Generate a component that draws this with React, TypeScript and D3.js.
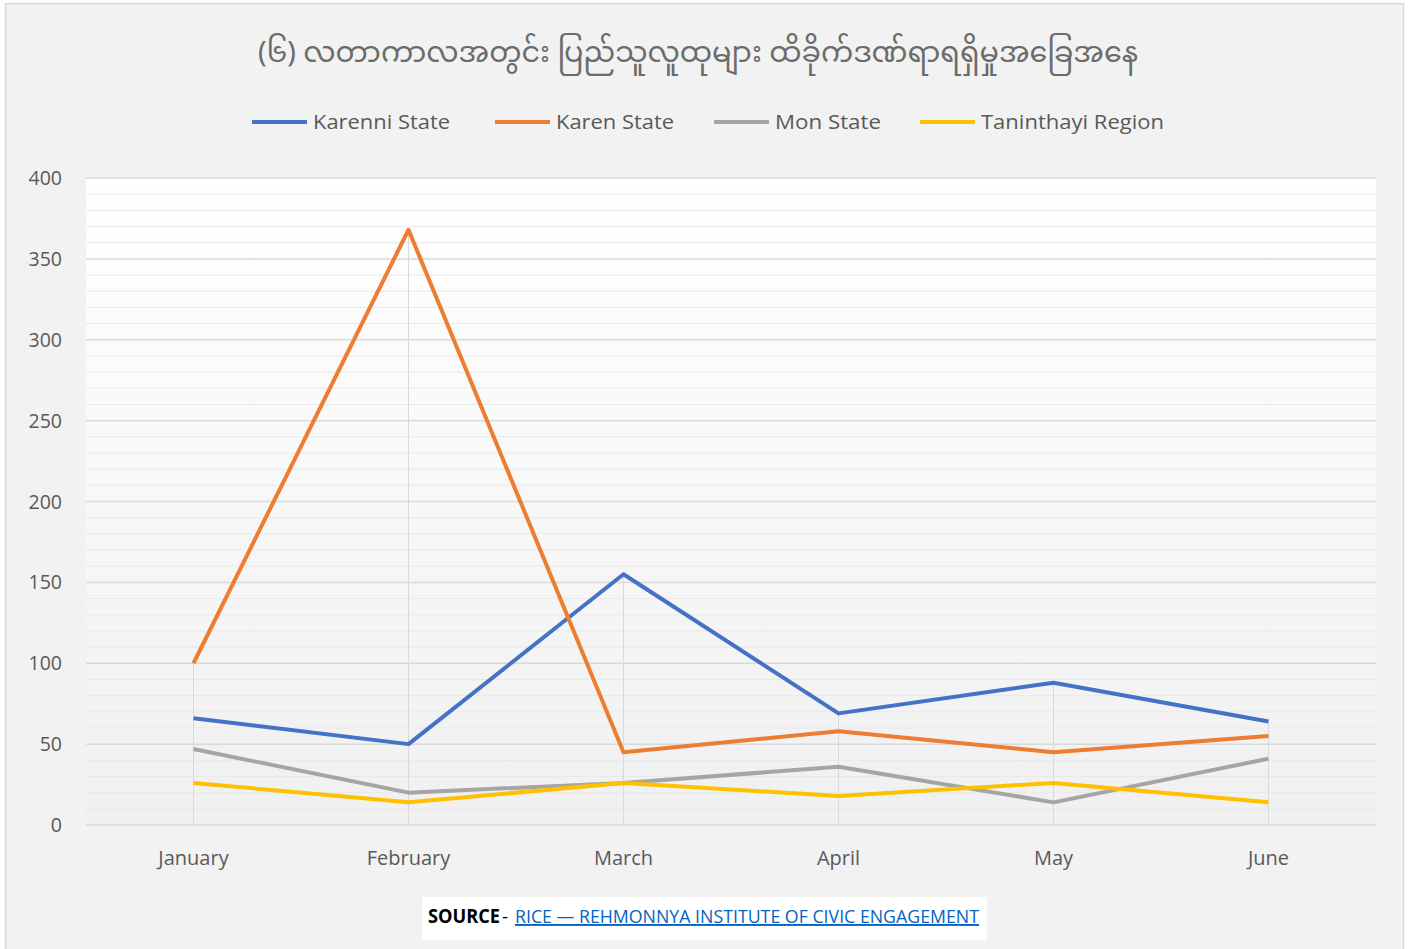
import React from "react";
import * as d3 from "d3";

const W = 1411;
const H = 949;

const titleText = "(၆) လတာကာလအတွင်း ပြည်သူလူထုများ ထိခိုက်ဒဏ်ရာရရှိမှုအခြေအနေ";
const months = ["January", "February", "March", "April", "May", "June"];
const seriesNames = ["Karenni State", "Karen State", "Mon State", "Tanintharyi Region"];
const legendLabels = ["Karenni State", "Karen State", "Mon State", "Taninthayi Region"];
const seriesColors = ["#4472c4", "#ed7d31", "#a5a5a5", "#ffc000"];
const karenni = [66, 50, 155, 69, 88, 64];
const karen = [100, 368, 45, 58, 45, 55];
const mon = [47, 20, 26, 36, 14, 41];
const tanintharyi = [26, 14, 26, 18, 26, 14];
const yTicks = [0, 50, 100, 150, 200, 250, 300, 350, 400];
const minorTicks = d3.range(0, 401, 10);

const allSeries = [karenni, karen, mon, tanintharyi];

const plot = { left: 86, right: 1376, top: 178, bottom: 825 };

export default function App() {
  const x = d3
    .scaleBand<string>()
    .domain(months)
    .range([plot.left, plot.right])
    .paddingInner(0)
    .paddingOuter(0);
  const cx = (m: string) => (x(m) as number) + x.bandwidth() / 2;
  const y = d3.scaleLinear().domain([0, 400]).range([plot.bottom, plot.top]);

  const line = d3
    .line<number>()
    .x((_, i) => cx(months[i]))
    .y((v) => y(v));

  const legendX = [252, 495, 714, 920];
  const legendTextW = [137, 118, 106, 183];
  const font = "'Open Sans', sans-serif";

  return (
    <svg
      width={W}
      height={H}
      style={{ position: "absolute", left: 0, top: 0, display: "block" }}
      fontFamily={font}
    >
      <defs>
        <linearGradient id="plotGrad" x1="0" y1="0" x2="0" y2="1">
          <stop offset="0" stopColor="#ffffff" />
          <stop offset="1" stopColor="#f0f0f0" />
        </linearGradient>
      </defs>
      <rect x={0} y={0} width={W} height={H} fill="#ffffff" />
      <rect x={5.5} y={3.5} width={1398} height={H + 10} fill="#f2f2f2" stroke="#d9d9d9" strokeWidth={1.5} />

      {/* title */}
      <text
        x={698}
        y={62}
        textAnchor="middle"
        fontSize={28.5}
        fill="#6b6b6b"
        textLength={880}
        lengthAdjust="spacingAndGlyphs"
        fontFamily="'Noto Sans Myanmar', 'Padauk', 'Myanmar Text', 'Noto Sans', sans-serif"
      >
        {titleText}
      </text>

      {/* legend */}
      {legendLabels.map((name, i) => (
        <g key={name}>
          <line x1={legendX[i]} x2={legendX[i] + 55} y1={122} y2={122} stroke={seriesColors[i]} strokeWidth={4} />
          <text
            x={legendX[i] + 61}
            y={129}
            fontSize={20}
            fill="#595959"
            textLength={legendTextW[i]}
            lengthAdjust="spacingAndGlyphs"
          >
            {name}
          </text>
        </g>
      ))}

      {/* plot area */}
      <rect x={plot.left} y={plot.top} width={plot.right - plot.left} height={plot.bottom - plot.top} fill="url(#plotGrad)" />
      {minorTicks
        .filter((t) => t % 50 !== 0)
        .map((t) => (
          <line key={"m" + t} x1={plot.left} x2={plot.right} y1={y(t)} y2={y(t)} stroke="#e9e9e9" strokeWidth={1} />
        ))}
      {yTicks.map((t) => (
        <line key={"g" + t} x1={plot.left} x2={plot.right} y1={y(t)} y2={y(t)} stroke="#d9d9d9" strokeWidth={1.5} />
      ))}

      {/* drop lines */}
      {months.map((m, i) => {
        const maxV = d3.max(allSeries, (s) => s[i]) as number;
        return <line key={"d" + m} x1={cx(m)} x2={cx(m)} y1={y(maxV)} y2={y(0)} stroke="#d9d9d9" strokeWidth={1} />;
      })}

      {/* y labels */}
      {yTicks.map((t) => (
        <text key={"yl" + t} x={62} y={y(t) + 7} textAnchor="end" fontSize={19.5} fill="#595959">
          {t}
        </text>
      ))}

      {/* x labels */}
      {months.map((m) => (
        <text key={"xl" + m} x={cx(m)} y={865} textAnchor="middle" fontSize={20} fill="#595959">
          {m}
        </text>
      ))}

      {/* series */}
      {allSeries.map((s, i) => (
        <path
          key={seriesNames[i]}
          d={line(s) as string}
          fill="none"
          stroke={seriesColors[i]}
          strokeWidth={4}
          strokeLinejoin="round"
          strokeLinecap="butt"
        />
      ))}

      {/* source */}
      <rect x={422} y={897} width={565} height={43} fill="#ffffff" />
      <text x={428} y={923} fontSize={19} fontWeight="bold" fill="#000000" textLength={72} lengthAdjust="spacingAndGlyphs">
        SOURCE
      </text>
      <text x={502} y={923} fontSize={19} fill="#000000">
        -
      </text>
      <text
        x={515}
        y={923}
        fontSize={19}
        fill="#0563c1"
        textDecoration="underline"
        textLength={464}
        lengthAdjust="spacingAndGlyphs"
      >
        RICE — REHMONNYA INSTITUTE OF CIVIC ENGAGEMENT
      </text>
    </svg>
  );
}
